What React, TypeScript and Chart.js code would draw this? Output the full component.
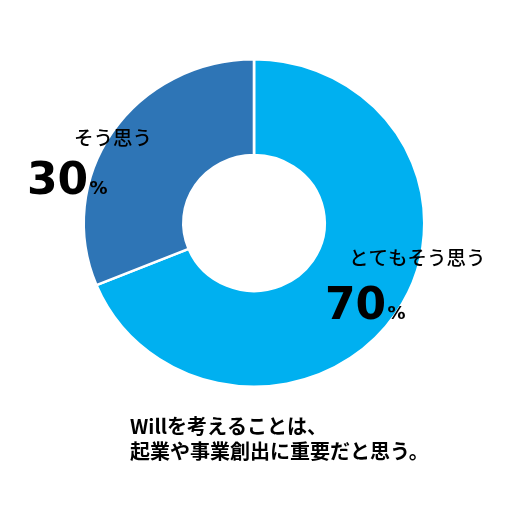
import React, { useEffect, useRef } from "react";
import Chart from "chart.js/auto";

const labels = ["とてもそう思う", "そう思う"];
// 円グラフの区切り位置から読んだ値（表示は四捨五入した％）
const sliceValues = [68.8, 31.2];
const shownPercents = [70, 30];
const colors = ["#00B0F0", "#2E75B6"];
const captionLines = ["Willを考えることは、", "起業や事業創出に重要だと思う。"];

const FONT = '"Noto Sans CJK JP", "Noto Sans", sans-serif';
const NUM_FONT = '"DejaVu Sans", "Noto Sans", sans-serif';
const X_STRETCH = 1.04;

const App: React.FC = () => {
  const chartRef = useRef<HTMLCanvasElement>(null);
  const chartInstanceRef = useRef<Chart | null>(null);

  useEffect(() => {
    document.body.style.margin = "0";
    if (!chartRef.current) return;

    // 元の図は少し横長なので、ドーナツだけ横に伸ばす
    const stretchPlugin = {
      id: "stretchX",
      beforeDatasetsDraw: (chart: Chart) => {
        const ctx = chart.ctx;
        const cx = (chart.chartArea.left + chart.chartArea.right) / 2;
        ctx.save();
        ctx.translate(cx, 0);
        ctx.scale(X_STRETCH, 1);
        ctx.translate(-cx, 0);
      },
      afterDatasetsDraw: (chart: Chart) => {
        chart.ctx.restore();
      },
    };

    // ラベルと数値を描く
    const labelPlugin = {
      id: "sliceLabels",
      afterDraw: (chart: Chart) => {
        const ctx = chart.ctx;
        const arc0: any = chart.getDatasetMeta(0).data[0];
        const cx = arc0.x;
        const cy = arc0.y;
        // インクの左端と中心/ベースライン
        const spots = [
          { lx: cx + 98, ly: cy + 35, nx: cx + 73, ny: cy + 96 },
          { lx: cx - 179, ly: cy - 85, nx: cx - 225, ny: cy - 29 },
        ];
        const fillAtInk = (text: string, x: number, y: number) => {
          const m = ctx.measureText(text);
          ctx.fillText(text, x + m.actualBoundingBoxLeft, y);
          return m.actualBoundingBoxRight + m.actualBoundingBoxLeft;
        };
        ctx.save();
        ctx.fillStyle = "#000";
        ctx.textAlign = "left";
        labels.forEach((label, i) => {
          const s = spots[i];
          ctx.font = `500 19.5px ${FONT}`;
          ctx.textBaseline = "middle";
          fillAtInk(label, s.lx, s.ly);
          ctx.textBaseline = "alphabetic";
          ctx.font = `bold 44px ${NUM_FONT}`;
          const w = fillAtInk(String(shownPercents[i]), s.nx, s.ny);
          ctx.font = `bold 18px ${NUM_FONT}`;
          fillAtInk("%", s.nx + w + 3, s.ny);
        });
        ctx.font = `bold 20px ${FONT}`;
        ctx.textBaseline = "middle";
        captionLines.forEach((line, i) => {
          fillAtInk(line, 130, 426 + i * 25);
        });
        ctx.restore();
      },
    };

    const ctx = chartRef.current.getContext("2d");
    if (ctx) {
      chartInstanceRef.current = new Chart(ctx, {
        type: "doughnut",
        data: {
          labels,
          datasets: [
            {
              data: sliceValues,
              backgroundColor: colors,
              borderColor: "#ffffff",
              borderWidth: 2.5,
            },
          ],
        },
        options: {
          responsive: false,
          animation: false,
          cutout: "41.5%",
          layout: {
            padding: { left: 89, right: 93, top: 58, bottom: 124 },
          },
          plugins: {
            legend: { display: false },
            tooltip: { enabled: false },
          },
        },
        plugins: [stretchPlugin, labelPlugin],
      });
    }

    return () => {
      if (chartInstanceRef.current) {
        chartInstanceRef.current.destroy();
        chartInstanceRef.current = null;
      }
    };
  }, []);

  return (
    <div style={{ width: 512, height: 512, background: "#fff" }}>
      <canvas ref={chartRef} width={512} height={512} />
    </div>
  );
};

export default App;
